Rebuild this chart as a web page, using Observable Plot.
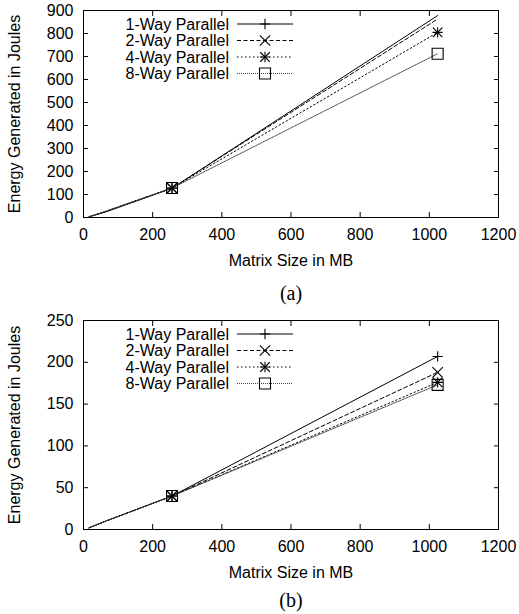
<!DOCTYPE html>
<html><head><meta charset="utf-8">
<script src="https://cdn.jsdelivr.net/npm/d3@7"></script>
<script src="https://cdn.jsdelivr.net/npm/@observablehq/plot@0.6"></script>
<style>body{margin:0;background:#fff} #chart{width:519px} svg{display:block}</style>
</head><body><div id="chart"></div>
<script>
// ---- data ----
const sizes = [16, 64, 256, 1024];            // Matrix Size in MB
const markerSizes = [256, 1024];              // sizes that carry a point marker
const seriesNames = ["1-Way Parallel", "2-Way Parallel", "4-Way Parallel", "8-Way Parallel"];
// panel (a)
const a1 = [3, 24, 127, 878];
const a2 = [3, 26, 128, 863];
const a4 = [3, 27, 128, 805];
const a8 = [3, 27, 128, 712];
// panel (b)
const b1 = [2, 10, 40, 207];
const b2 = [2, 10, 40, 188];
const b4 = [2, 10, 40, 176];
const b8 = [2, 10, 40, 173];
const xTicks = [0, 200, 400, 600, 800, 1000, 1200];
const yTicksA = [0, 100, 200, 300, 400, 500, 600, 700, 800, 900];
const yTicksB = [0, 50, 100, 150, 200, 250];
const xLabel = "Matrix Size in MB";
const yLabel = "Energy Generated in Joules";

// ---- styles ----
const dashes = [null, "4,2.5", "1.5,2.5", "1,1"];
const lineColors = ["#000", "#000", "#000", "#444"];
// gnuplot point types: +, x, * (= + and x overlaid), open square
const symbolParts = [[["plus", 3.4]], [["times", 4.8]], [["plus", 3.4], ["times", 4.4]], [["square2", 7]]];
const d3Sym = {plus: d3.symbolPlus, times: d3.symbolTimes, square2: d3.symbolSquare2};
const font = "'Liberation Sans', Arial, Helvetica, sans-serif";
const fs = 16;

function table(seriesValues) {
  const rows = [];
  seriesValues.forEach((vals, i) => vals.forEach((v, j) => rows.push({series: seriesNames[i], idx: i, size: sizes[j], energy: v})));
  return rows;
}

function panel(seriesValues, yMax, yTicks, tag, height, marginBottom, tagDy) {
  const rows = table(seriesValues);
  const marks = [];
  seriesNames.forEach((s, i) => {
    const d = rows.filter(r => r.idx === i);
    marks.push(Plot.line(d, {x: "size", y: "energy", stroke: lineColors[i], strokeWidth: 1, strokeDasharray: dashes[i]}));
  });
  seriesNames.forEach((s, i) => {
    // gnuplot does not draw points that come too close to the border
    const d = rows.filter(r => r.idx === i && markerSizes.includes(r.size) && r.energy < 0.95 * yMax);
    symbolParts[i].forEach(([sym, r]) =>
      marks.push(Plot.dot(d, {x: "size", y: "energy", symbol: () => sym, r, stroke: "#000", fill: "none", strokeWidth: 1.1})));
  });
  marks.push(
    Plot.frame({stroke: "#000", strokeWidth: 1}),
    Plot.axisX({ticks: xTicks, tickSize: 0, tickPadding: 11, tickFormat: d3.format("d"), label: null}),
    Plot.axisY({ticks: yTicks, tickSize: 0, tickPadding: 10, tickFormat: d3.format("d"), label: null}),
    Plot.axisX({ticks: xTicks, tickSize: 5, dy: -5, tickFormat: () => "", label: null}),
    Plot.axisX({ticks: xTicks, anchor: "top", tickSize: 5, dy: 5, tickFormat: () => "", label: null}),
    Plot.axisY({ticks: yTicks, tickSize: 5, dx: 5, tickFormat: () => "", label: null}),
    Plot.axisY({ticks: yTicks, anchor: "right", tickSize: 5, dx: -5, tickFormat: () => "", label: null}),
    Plot.text([xLabel], {frameAnchor: "bottom", dy: 43, lineAnchor: "middle", textAnchor: "middle", fontSize: fs}),
    Plot.text([yLabel], {frameAnchor: "left", dx: -69, rotate: -90, lineAnchor: "middle", textAnchor: "middle", fontSize: fs}),
    Plot.text([tag], {frameAnchor: "bottom", dy: tagDy, lineAnchor: "middle", textAnchor: "middle", fontSize: 20, fontFamily: "'Liberation Serif', 'Times New Roman', serif"})
  );
  const svg = Plot.plot({
    width: 519, height,
    marginTop: 10, marginLeft: 83, marginRight: 21, marginBottom,
    x: {domain: [0, 1200], label: null},
    y: {domain: [0, yMax], label: null},
    symbol: {type: "identity"},
    style: {fontFamily: font, fontSize: fs + "px", color: "#000", background: "#fff"},
    marks
  });
  // legend (top-left, inside frame, gnuplot style)
  const g = d3.select(svg).append("g").attr("font-family", font).attr("font-size", fs);
  const rowY = [24, 40.5, 57, 73.5];
  seriesNames.forEach((s, i) => {
    const y = rowY[i];
    g.append("text").attr("x", 229).attr("y", y).attr("text-anchor", "end").attr("dominant-baseline", "central").attr("fill", "#000").text(s);
    g.append("line").attr("x1", 237).attr("x2", 293).attr("y1", y).attr("y2", y)
      .attr("stroke", lineColors[i]).attr("stroke-width", 1).attr("stroke-dasharray", dashes[i]);
    symbolParts[i].forEach(([sym, r]) => {
      const p = d3.symbol(d3Sym[sym], r * r * Math.PI);
      g.append("path").attr("d", p()).attr("transform", `translate(265,${y})`).attr("fill", "none").attr("stroke", "#000").attr("stroke-width", 1.1);
    });
  });
  return svg;
}

const chart = document.getElementById("chart");
chart.appendChild(panel([a1, a2, a4, a8], 900, yTicksA, "(a)", 310, 93, 76));
chart.appendChild(panel([b1, b2, b4, b8], 250, yTicksB, "(b)", 304, 85, 71));
</script></body></html>
